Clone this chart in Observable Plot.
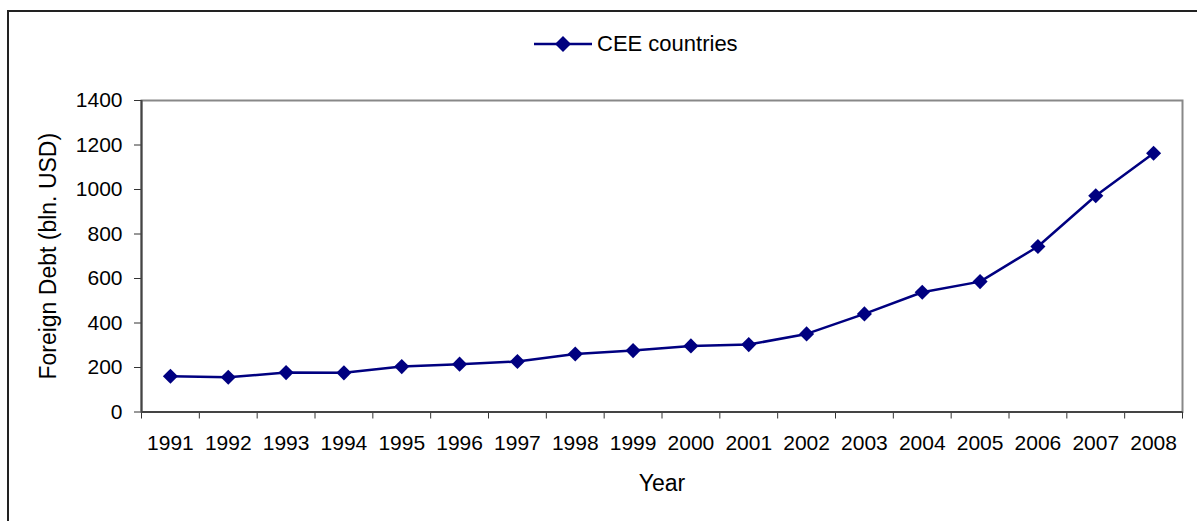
<!DOCTYPE html>
<html>
<head>
<meta charset="utf-8">
<script src="https://cdn.jsdelivr.net/npm/d3@7"></script>
<script src="https://cdn.jsdelivr.net/npm/@observablehq/plot@0.6"></script>
<style>
  html, body { margin: 0; padding: 0; background: #fff; }
  body { width: 1197px; height: 521px; overflow: hidden; font-family: "Liberation Sans", Arial, sans-serif; }
  #frame { position: absolute; left: 7px; top: 10px; width: 1190px; height: 511px;
           border-top: 2px solid #222; border-left: 2px solid #222; box-sizing: border-box; }
  #legend { position: relative; height: 52px; }
  #legend .item { position: absolute; left: 525px; top: 20px; height: 24px; display: flex; align-items: center; gap: 5px; font-size: 22px; color: #000; }
  #chart svg { display: block; }
</style>
</head>
<body>
<div id="frame">
  <div id="legend">
    <div class="item">
      <svg width="58" height="20" viewBox="0 0 58 20">
        <line x1="0" y1="10" x2="58" y2="10" stroke="#000080" stroke-width="2.5"/>
        <path d="M29,2 L37,10 L29,18 L21,10 Z" fill="#000080"/>
      </svg>
      <span>CEE countries</span>
    </div>
  </div>
  <div id="chart"></div>
</div>
<script>
const years = [1991, 1992, 1993, 1994, 1995, 1996, 1997, 1998, 1999, 2000, 2001, 2002, 2003, 2004, 2005, 2006, 2007, 2008];
const debt  = [161, 156, 177, 176, 204, 215, 227, 261, 276, 297, 303, 351, 441, 538, 586, 744, 972, 1163];
const yTicks = [0, 200, 400, 600, 800, 1000, 1200, 1400];
const seriesName = "CEE countries";
const yTitle = "Foreign Debt (bln. USD)";
const xTitle = "Year";

const data = years.map((year, i) => ({year, debt: debt[i], series: seriesName}));
const boundaries = years.map(y => y - 0.5).concat([years[years.length - 1] + 0.5]);
const font = '"Liberation Sans", Arial, sans-serif';

const chart = Plot.plot({
  width: 1188,
  height: 457,
  marginLeft: 132,
  marginRight: 15,
  marginTop: 36,
  marginBottom: 109.5,
  style: { fontFamily: font, fontSize: "21px", color: "#000", background: "#fff" },
  x: { type: "linear", domain: [boundaries[0], boundaries[boundaries.length - 1]] },
  y: { domain: [0, 1400] },
  marks: [
    Plot.frame({ stroke: "#888", strokeWidth: 2 }),
    Plot.axisY({ ticks: yTicks, tickSize: 7, tickPadding: 12, fontSize: 21, stroke: "#333",
                 tickFormat: d => String(d), label: null }),
    Plot.axisX({ ticks: boundaries, tickSize: 7, tickFormat: () => "", stroke: "#333", label: null }),
    Plot.axisX({ ticks: years, tickSize: 0, tickPadding: 23, fontSize: 21, tickFormat: d => String(d), label: null }),
    Plot.text([yTitle], { text: d => d, frameAnchor: "left", textAnchor: "middle", lineAnchor: "middle",
                          rotate: -90, dx: -93, fontSize: 23, fill: "#000" }),
    Plot.text([xTitle], { text: d => d, frameAnchor: "bottom", textAnchor: "middle", lineAnchor: "middle",
                          dy: 72, fontSize: 23, fill: "#000" }),
    Plot.ruleX([boundaries[0]], { stroke: "#444", strokeWidth: 2 }),
    Plot.ruleY([0], { stroke: "#444", strokeWidth: 2 }),
    Plot.lineY(data, { x: "year", y: "debt", stroke: "#000080", strokeWidth: 2.5 }),
    Plot.dot(data, { x: "year", y: "debt", symbol: "diamond2", r: 6.8, fill: "#000080", stroke: "none" })
  ]
});
document.getElementById("chart").appendChild(chart);
</script>
</body>
</html>
